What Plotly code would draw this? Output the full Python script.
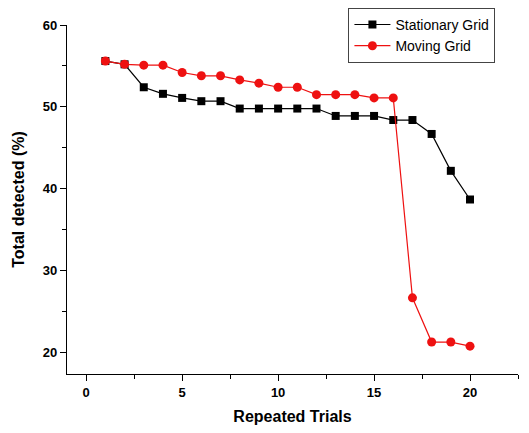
import plotly.graph_objects as go

trials = list(range(1, 21))
stationary = [55.6, 55.2, 52.4, 51.6, 51.1, 50.7, 50.7, 49.8, 49.8, 49.8,
              49.8, 49.8, 48.9, 48.9, 48.9, 48.4, 48.4, 46.7, 42.2, 38.7]
moving = [55.6, 55.2, 55.1, 55.1, 54.2, 53.8, 53.8, 53.3, 52.9, 52.4,
          52.4, 51.5, 51.5, 51.5, 51.1, 51.1, 26.7, 21.3, 21.3, 20.8]

FONT = "Arial, Liberation Sans, sans-serif"

fig = go.Figure()
fig.add_trace(go.Scatter(x=trials, y=stationary, mode="lines+markers",
                         name="Stationary Grid",
                         line=dict(color="black", width=1.2),
                         marker=dict(symbol="square", size=8, color="black")))
fig.add_trace(go.Scatter(x=trials, y=moving, mode="lines+markers",
                         name="Moving Grid",
                         line=dict(color="#ee1111", width=1.2),
                         marker=dict(symbol="circle", size=9, color="#ee1111")))

fig.update_layout(
    width=529, height=433,
    margin=dict(l=59, r=19, t=17, b=67, autoexpand=False),
    paper_bgcolor="white", plot_bgcolor="white",
    font=dict(family=FONT, color="black"),
    showlegend=True,
    legend=dict(x=0.624, y=1.049, xanchor="left", yanchor="top",
                bordercolor="#444", borderwidth=1, bgcolor="white",
                font=dict(size=14, family=FONT), tracegroupgap=0,
                itemwidth=36),
    xaxis=dict(range=[-1, 22.5], tickmode="linear", tick0=0, dtick=5,
               showline=True, linecolor="black", linewidth=1.2,
               ticks="outside", ticklen=6, tickcolor="black",
               minor=dict(tickmode="linear", tick0=0, dtick=2.5, ticks="outside", ticklen=4, tickcolor="black"),
               showgrid=False, zeroline=False, automargin=False,
               tickfont=dict(size=13, family=FONT, weight="bold"),
               title=dict(text="<b>Repeated Trials</b>", font=dict(size=16), standoff=12)),
    yaxis=dict(range=[17.4, 60], tickmode="linear", tick0=0, dtick=10,
               showline=True, linecolor="black", linewidth=1.2,
               ticks="outside", ticklen=6, tickcolor="black",
               minor=dict(tickmode="linear", tick0=0, dtick=5, ticks="outside", ticklen=4, tickcolor="black"),
               showgrid=False, zeroline=False, automargin=False,
               tickfont=dict(size=13, family=FONT, weight="bold"),
               title=dict(text="<b>Total detected (%)</b>", font=dict(size=16), standoff=14)),
)

fig.write_html("out.html")
